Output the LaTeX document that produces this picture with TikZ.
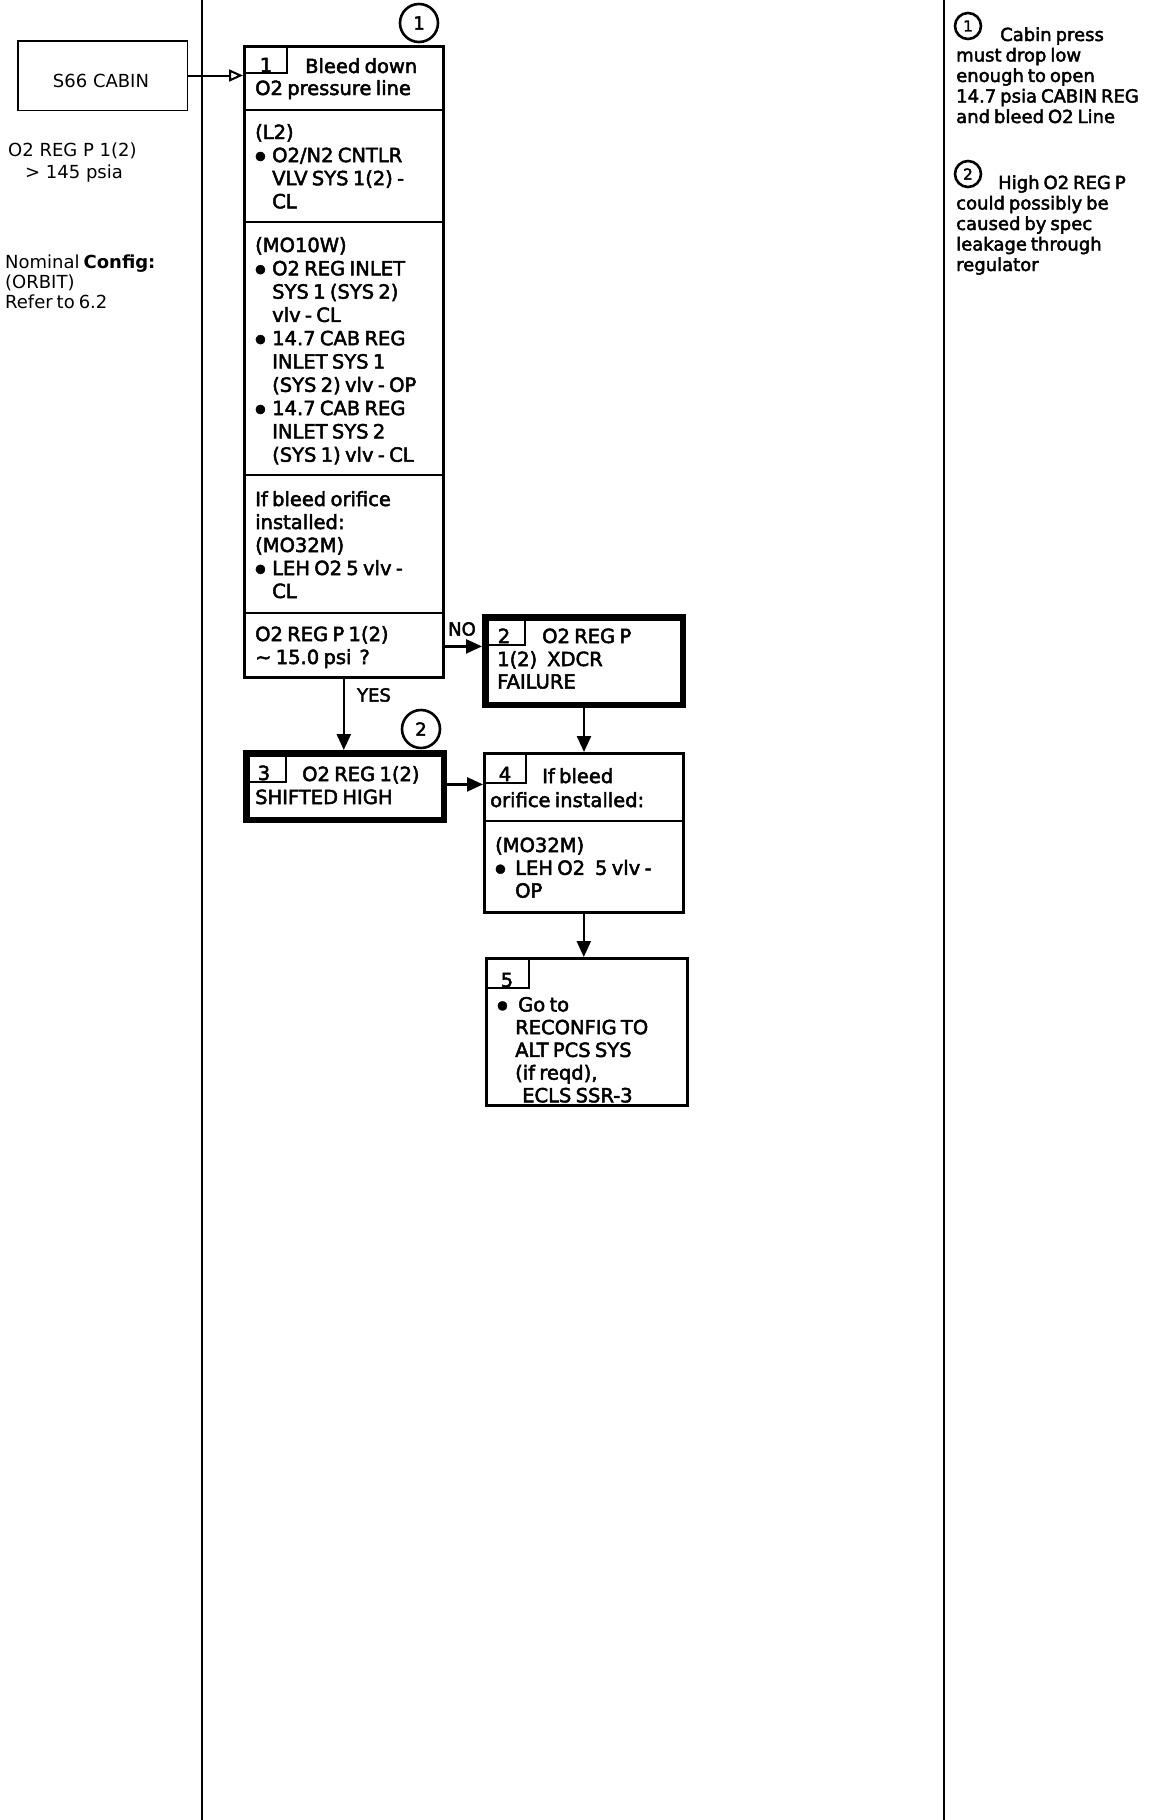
\documentclass[tikz,border=0pt]{standalone}
\usepackage{fontspec}
\setmainfont{DejaVu Sans}
\newfontfamily\bx[FakeBold=2.5]{DejaVu Sans}
\usetikzlibrary{arrows.meta}
\newcommand\blk[3]{\parbox[t]{320pt}{\fontsize{#1}{#2}\selectfont\spaceskip=0.22em\relax\raggedright #3}}
\newcommand\bulw[1]{\makebox[#1][l]{\raisebox{2.5pt}{\fontsize{12}{12}\selectfont ●}}}
\newcommand\bul{\bulw{17pt}}
\newcommand\ind{\hspace*{17pt}}
\newcommand\tightsp{\spaceskip=0.22em\relax}
\begin{document}
\begin{tikzpicture}[x=1pt,y=-1pt,
  frame/.style={draw, line width=2.6pt, rectangle, anchor=north west, inner sep=0pt},
  heavy/.style={draw, line width=6.5pt, rectangle, anchor=north west, inner sep=0pt},
  stepbox/.style={draw, line width=2.4pt, rectangle, anchor=north west, inner sep=0pt},
  divider/.style={line width=2.6pt},
  colline/.style={line width=2.6pt},
  arr/.style={line width=2.4pt, -{Triangle[length=16pt,width=14pt]}},
  openarr/.style={line width=2pt, -{Triangle[open,length=14pt,width=12pt]}},
  txt/.style={anchor=base west, inner sep=0pt, font={\bx\fontsize{19.5}{23.3}\selectfont\tightsp}},
  num/.style={anchor=base, inner sep=0pt, font={\bx\fontsize{19.5}{23.3}\selectfont}},
  plain/.style={anchor=base west, inner sep=0pt, font={\fontsize{18}{20}\selectfont}},
  note/.style={anchor=base west, inner sep=0pt, font={\bx\fontsize{18}{20.5}\selectfont\tightsp}},
  callout/.style={draw, circle, line width=2.6pt, minimum size=38pt, inner sep=0pt, font={\bx\fontsize{18}{18}\selectfont}},
  notecirc/.style={draw, circle, line width=2.6pt, minimum size=26pt, inner sep=0pt, font={\bx\fontsize{15}{15}\selectfont}},
  lbl/.style={inner sep=0pt, font={\bx\fontsize{18}{18}\selectfont}},
]
\fill[white] (0,0) rectangle (1150,1820);
\useasboundingbox (0,0) rectangle (1150,1820);

% column rules
\coordinate (lt) at (202,0); \coordinate (lb) at (202,1820);
\coordinate (rt) at (944,0); \coordinate (rb) at (944,1820);
\draw[colline] (lt) -- (lb);
\draw[colline] (rt) -- (rb);

% left column
\node[draw, line width=1.5pt, anchor=north west, minimum width=169.5pt, minimum height=69.5pt, inner sep=0pt] (s66) at (17,40) {};
\node[inner sep=0pt, font={\fontsize{18}{20}\selectfont}] (s66t) at (101,81) {S66 CABIN};
\node[plain] (lc1) at (8,156) {O2 REG P 1(2)};
\node[plain] (lc2) at (25,178) {> 145 psia};
\node[plain] (lc3) at (5,268) {\blk{18}{20}{Nominal \textbf{Config:}\\(ORBIT)\\Refer to 6.2}};

% box 1
\node[frame, minimum width=199pt, minimum height=631pt] (b1) at (243,45) {};
\node[stepbox, minimum width=43pt, minimum height=27pt] (s1) at (243,45) {};
\coordinate (h1) at (0,110); \coordinate (h2) at (0,222);
\coordinate (h3) at (0,475); \coordinate (h4) at (0,613);
\foreach \h in {h1,h2,h3,h4} \draw[divider] (b1.west |- \h) -- (b1.east |- \h);
\node[num] (n1) at (266,72) {1};
\node[txt] (t1a) at (305,73) {Bleed down};
\node[txt] (t1b) at (255,95) {O2 pressure line};
\node[txt] (t1c) at (255,139) {\blk{19.5}{23.1}{(L2)\\\bul O2/N2 CNTLR\\\ind VLV SYS 1(2) -\\\ind CL}};
\node[txt] (t1d) at (255,252) {\blk{19.5}{23.3}{(MO10W)\\\bul O2 REG INLET\\\ind SYS 1 (SYS 2)\\\ind vlv - CL\\\bul 14.7 CAB REG\\\ind INLET SYS 1\\\ind (SYS 2) vlv - OP\\\bul 14.7 CAB REG\\\ind INLET SYS 2\\\ind (SYS 1) vlv - CL}};
\node[txt] (t1e) at (255,506) {\blk{19.5}{23}{If bleed orifice\\installed:\\(MO32M)\\\bul LEH O2 5 vlv -\\\ind CL}};
\node[txt] (t1f) at (255,641) {\blk{19.5}{23}{O2 REG P 1(2)\\∼ 15.0 psi\hspace{8pt}?}};

% callouts
\node[callout] (c1) at (419,23) {1};
\node[callout] (c2) at (421,729) {2};

% box 2
\node[heavy, minimum width=197.5pt, minimum height=87.5pt] (b2) at (482,614) {};
\node[stepbox, minimum width=42pt, minimum height=30pt] (s2) at (482,614) {};
\node[num] (n2) at (504,643) {2};
\node[txt] (t2a) at (542,643) {O2 REG P};
\node[txt] (t2b) at (497,666) {\blk{19.5}{22.5}{1(2)\hspace{10pt}XDCR\\FAILURE}};

% box 3
\node[heavy, minimum width=197.5pt, minimum height=66.5pt] (b3) at (243,750) {};
\node[stepbox, minimum width=42pt, minimum height=31pt] (s3) at (243,750) {};
\node[num] (n3) at (264,780) {3};
\node[txt] (t3a) at (302,781) {O2 REG 1(2)};
\node[txt] (t3b) at (255,804) {SHIFTED HIGH};

% box 4
\node[frame, minimum width=199pt, minimum height=159pt] (b4) at (483,752) {};
\node[stepbox, minimum width=42pt, minimum height=30pt] (s4) at (483,752) {};
\coordinate (h5) at (0,821);
\draw[divider] (b4.west |- h5) -- (b4.east |- h5);
\node[num] (n4) at (505,781) {4};
\node[txt] (t4a) at (542,783) {If bleed};
\node[txt] (t4b) at (490,807) {orifice installed:};
\node[txt] (t4c) at (495,852) {\blk{19.5}{22.8}{(MO32M)\\\bulw{20pt}LEH O2\hspace{10pt}5 vlv -\\\hspace*{20pt}OP}};

% box 5
\node[frame, minimum width=201pt, minimum height=147pt] (b5) at (485,957) {};
\node[stepbox, minimum width=43pt, minimum height=30pt] (s5) at (485,957) {};
\node[num] (n5) at (507,987) {5};
\node[txt] (t5) at (497,1011.5) {\blk{19.5}{22.7}{\bulw{21pt}Go to\\\hspace*{18pt}RECONFIG TO\\\hspace*{18pt}ALT PCS SYS\\\hspace*{18pt}(if reqd),\\\hspace*{25pt}\underline{ECLS} SSR-3}};

% connectors
\draw[openarr] (s66.east) -- (s66.east -| b1.west);
\draw[arr] (b1.east |- s2.south) -- (s2.south west);
\node[lbl] (no) at (462,629) {NO};
\draw[arr] (b1.south) -- (b1.south |- b3.north);
\node[lbl] (yes) at (374,695) {YES};
\draw[arr] (b3.east |- s4.south) -- (s4.south west);
\draw[arr] (b2.south) -- (b2.south |- b4.north);
\draw[arr] (b4.south) -- (b4.south |- b5.north);

% notes
\node[notecirc] (k1) at (968,26) {1};
\node[note] (k1a) at (1000,41) {Cabin press};
\node[note] (k1b) at (956,61.5) {\blk{18}{20.5}{must drop low\\enough to open\\14.7 psia CABIN REG\\and bleed O2 Line}};
\node[notecirc] (k2) at (968,174) {2};
\node[note] (k2a) at (998,189) {High O2 REG P};
\node[note] (k2b) at (956,209.5) {\blk{18}{20.5}{could possibly be\\caused by spec\\leakage through\\regulator}};
\end{tikzpicture}
\end{document}
